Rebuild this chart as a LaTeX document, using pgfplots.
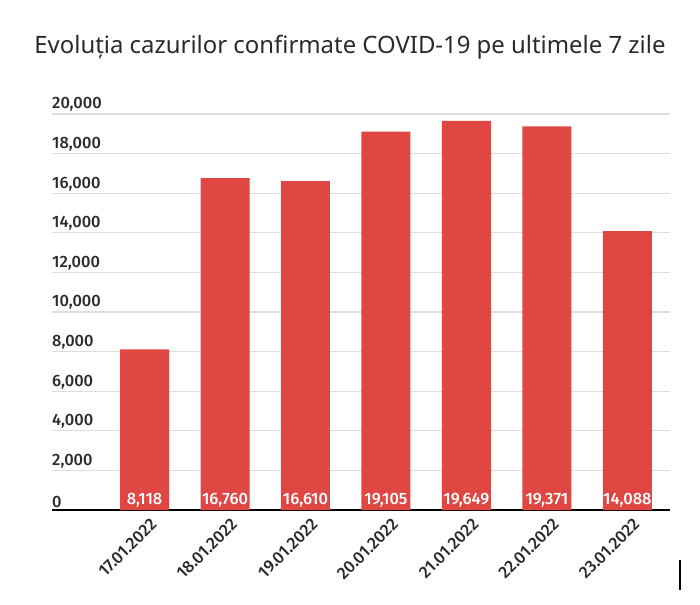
\documentclass[border=0pt]{standalone}
\usepackage{pgfplots}
\pgfplotsset{compat=1.18}
\usepackage{fontspec}
\setmainfont{Noto Sans}
\newfontfamily\medfont{Fira Sans Medium}

\definecolor{barred}{HTML}{E04642}
\definecolor{gridgray}{HTML}{DDDDDD}
\definecolor{txt}{HTML}{2A2A2A}

\begin{document}
\begin{tikzpicture}
  \path[use as bounding box] (0,0) rectangle (700bp,605bp);
  \node[text=txt, font=\fontsize{24}{28}\selectfont] at (350bp,558bp)
    {Evoluția cazurilor confirmate COVID-19 pe ultimele 7 zile};
  \begin{axis}[
      at={(52bp,95bp)}, anchor=south west,
      scale only axis, width=618bp, height=396bp,
      xmin=-1.15, xmax=6.53, ymin=0, ymax=20000,
      axis x line*=bottom, axis y line*=left,
      x axis line style={draw=black, line width=2bp},
      y axis line style={draw=none},
      ytick={0,2000,...,20000},
      ymajorgrids, grid style={draw=gridgray, line width=1.3bp},
      major tick length=0pt,
      /pgf/number format/1000 sep={,},
      /pgf/number format/assume math mode=true,
      yticklabel style={anchor=south west, inner xsep=0pt, inner ysep=2bp,
        text=txt, font=\medfont\fontsize{16.5}{19}\selectfont},
      xtick={0,...,6},
      xticklabels={17.01.2022,18.01.2022,19.01.2022,20.01.2022,21.01.2022,22.01.2022,23.01.2022},
      xticklabel style={rotate=45, anchor=north east, text=txt, yshift=-5bp,
        xshift=2bp, font=\medfont\fontsize{17}{20}\selectfont},
      scaled y ticks=false,
      clip=false,
    ]
    \addplot[ybar, bar width=49bp, fill=barred, draw=none] table {
      x y
      0 8118
      1 16760
      2 16610
      3 19105
      4 19649
      5 19371
      6 14088
    };
    \addplot[draw=none, mark=none, nodes near coords, point meta=explicit,
      every node near coord/.append style={anchor=south, text=white,
        inner sep=2bp, font=\medfont\fontsize{16.5}{19}\selectfont}]
      table[x=x, y expr=0, meta=y] {
      x y
      0 8118
      1 16760
      2 16610
      3 19105
      4 19649
      5 19371
      6 14088
    };
  \end{axis}
  \draw[line width=1.2bp] (680bp,15bp) -- (680bp,45bp);
\end{tikzpicture}
\end{document}
